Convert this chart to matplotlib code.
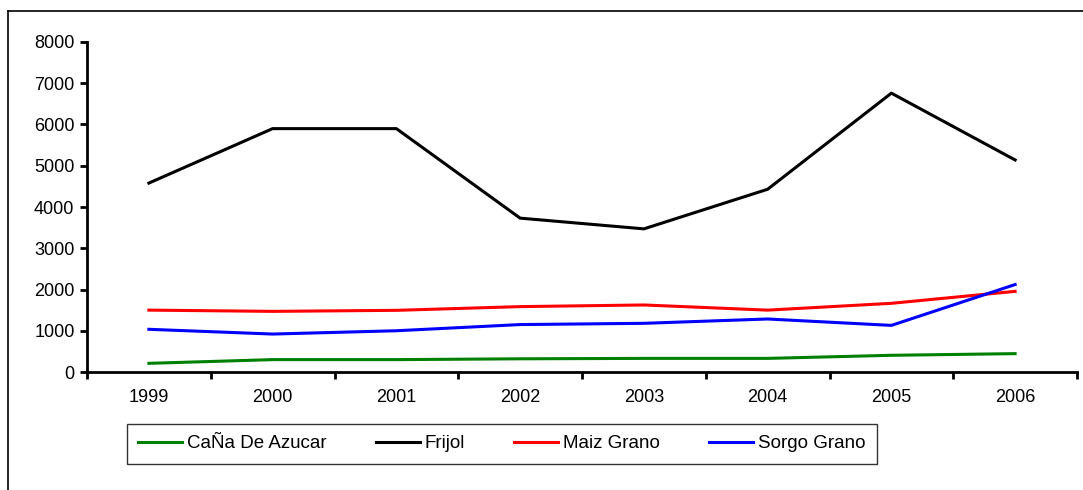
import numpy as np
import matplotlib.pyplot as plt
from matplotlib.lines import Line2D

plt.rcParams['font.family'] = ['Liberation Sans', 'DejaVu Sans']

years = ['1999', '2000', '2001', '2002', '2003', '2004', '2005', '2006']
cana = [210, 300, 300, 320, 330, 330, 405, 445]
frijol = [4580, 5900, 5900, 3730, 3470, 4430, 6760, 5140]
maiz = [1500, 1470, 1495, 1585, 1625, 1500, 1665, 1955]
sorgo = [1035, 920, 1000, 1150, 1180, 1285, 1130, 2120]

names = ['CaÑa De Azucar', 'Frijol', 'Maiz Grano', 'Sorgo Grano']
colores = ['#008000', '#000000', '#ff0000', '#0000ff']

W, H = 1083, 490
fig = plt.figure(figsize=(W / 100, H / 100), dpi=100)
ax = fig.add_axes([87 / W, 1 - 372 / H, (1077 - 87) / W, (372 - 42) / H])

x = np.arange(len(years))
for serie, nombre, c in zip([cana, frijol, maiz, sorgo], names, colores):
    ax.plot(x, serie, color=c, lw=2.2, label=nombre)

ax.set_xlim(-0.5, len(years) - 0.5)
ax.set_ylim(0, 8000)
ax.set_yticks(np.arange(0, 8001, 1000))
ax.set_xticks(x)
ax.set_xticklabels(years)
ax.set_xticks(np.arange(-0.5, len(years)), minor=True)
ax.tick_params(axis='x', which='major', length=0, pad=12.5, labelsize=13)
ax.tick_params(axis='x', which='minor', length=5, width=2, direction='out')
ax.tick_params(axis='y', length=5, width=2, labelsize=13, pad=4)

for s in ['top', 'right']:
    ax.spines[s].set_visible(False)
for s in ['left', 'bottom']:
    ax.spines[s].set_linewidth(2)

leg = fig.legend(loc='upper left', bbox_to_anchor=(127 / W, 1 - 424 / H),
                 ncol=4, frameon=True, fancybox=False, fontsize=13.5,
                 handlelength=2.35, handletextpad=0.27, columnspacing=2.6,
                 borderpad=0.6, borderaxespad=0)
leg.get_frame().set_edgecolor('black')
leg.get_frame().set_linewidth(1)

# borde exterior del grafico
fig.add_artist(Line2D([8 / W, 8 / W], [0, 1 - 11 / H], color='black', lw=1.2, transform=fig.transFigure))
fig.add_artist(Line2D([8 / W, 1], [1 - 11 / H, 1 - 11 / H], color='black', lw=1.2, transform=fig.transFigure))

fig.savefig('out.png', dpi=100)
